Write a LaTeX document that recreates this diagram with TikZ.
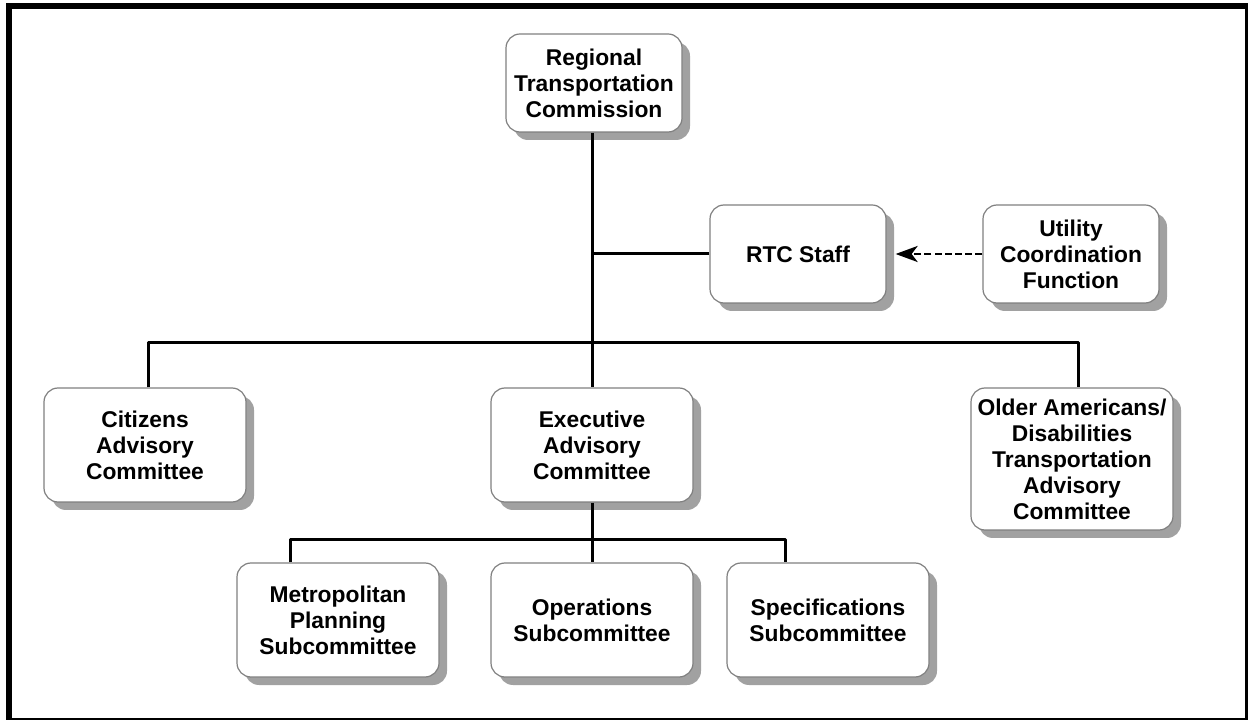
\documentclass[tikz,border=0pt]{standalone}
\usepackage{fontspec}
\setmainfont{Liberation Sans}
\usetikzlibrary{arrows.meta,shadows}

\begin{document}
\begin{tikzpicture}[x=0.5pt, y=-0.5pt, line join=round,
  orgbox/.style={draw=black!50, line width=0.6pt, fill=white, rounded corners=7pt,
    align=center, inner sep=0pt, minimum width=101pt, minimum height=57pt,
    font=\bfseries\fontsize{11.4}{13}\selectfont,
    drop shadow={shadow xshift=4pt, shadow yshift=-4pt, fill=black!37, opacity=1}},
  link/.style={line width=1.5pt},
  feed/.style={line width=1.4pt, dash pattern=on 3.5pt off 1.6pt, -{Stealth[length=11pt, width=8pt, inset=3pt]}, shorten >=4.5pt}]
\useasboundingbox (0,0) rectangle (1248,721);
% frame
\fill (6,3) rectangle (12,720);
\fill (6,3) rectangle (1248,9);
\fill (1245,3) rectangle (1248,720);
\fill (6,718) rectangle (1248,720);
% boxes
\node[orgbox, minimum width=88pt, minimum height=49pt] (rtc) at (594,83) {Regional\\Transportation\\Commission};
\node[orgbox, minimum width=88pt, minimum height=49pt] (staff) at (798,254) {RTC Staff};
\node[orgbox, minimum width=88pt, minimum height=49pt] (ucf) at (1071,254) {Utility\\Coordination\\Function};
\node[orgbox] (cac) at (145,445) {Citizens\\Advisory\\Committee};
\node[orgbox] (exec) at (592,445) {Executive\\Advisory\\Committee};
\node[orgbox, minimum height=71pt] (older) at (1072,459) {Older Americans/\\Disabilities\\Transportation\\Advisory\\Committee};
\node[orgbox] (mpo) at (338,620) {Metropolitan\\Planning\\Subcommittee};
\node[orgbox] (ops) at (592,620) {Operations\\Subcommittee};
\node[orgbox] (spec) at (828,620) {Specifications\\Subcommittee};
% junctions
\coordinate (busL) at (148,343);
\coordinate (busR) at (1078,343);
\coordinate (subL) at (290,540);
\coordinate (subR) at (785,540);
% links
\draw[link] (rtc.south -| exec.north) -- (exec.north);
\draw[link] (staff.west) -- (staff.west -| exec.north);
\draw[link] (busL |- cac.north) -- (busL) -- (busR) -- (busR |- older.north);
\draw[link] (exec.south) -- (ops.north);
\draw[link] (subL |- mpo.north) -- (subL) -- (subR) -- (subR |- spec.north);
\draw[feed] (ucf.west) -- (staff.east);
\end{tikzpicture}
\end{document}
